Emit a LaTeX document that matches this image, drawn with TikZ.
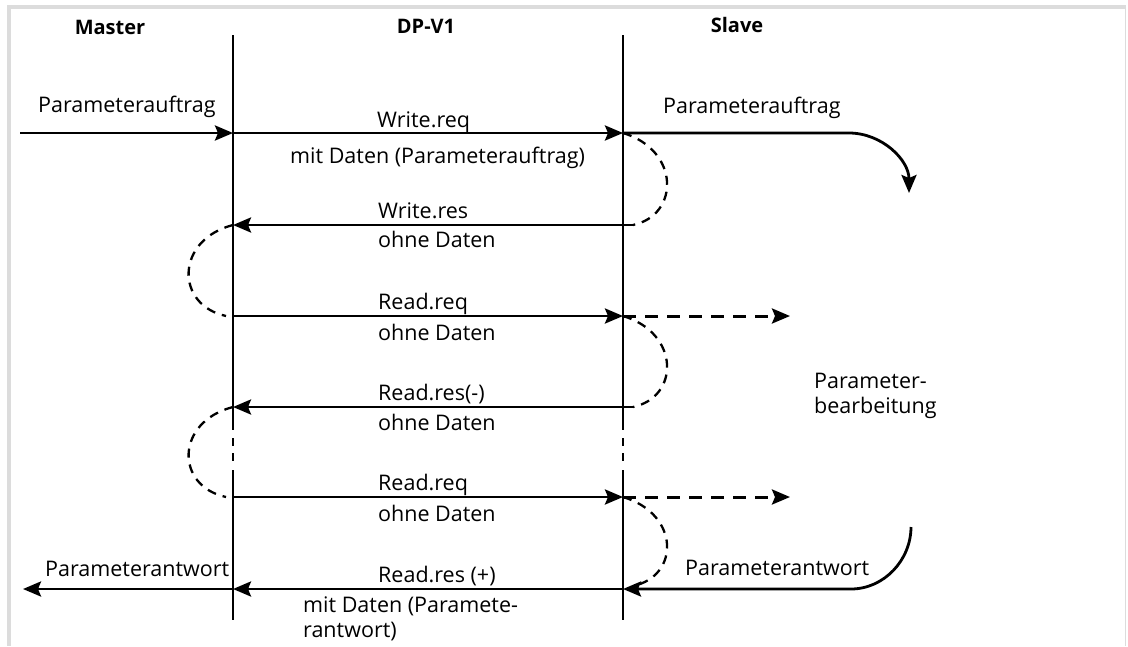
\documentclass[tikz,border=0pt]{standalone}
\usepackage{fontspec}
\setmainfont{Open Sans}
\usetikzlibrary{arrows.meta}
\definecolor{framegray}{HTML}{DCDCDC}
\tikzset{
  lifeln/.style={line width=2.8pt},
  tipstyle/.style={-{Stealth[length=18pt,width=15pt,inset=3pt]}},
  msg/.style={line width=2.8pt, tipstyle},
  dasharc/.style={line width=2.3pt, dash pattern=on 9pt off 7pt},
  dasharr/.style={line width=3pt, dash pattern=on 13pt off 9pt, tipstyle},
  lbl/.style={anchor=base west, inner sep=0pt, font=\fontsize{21.5}{25}\selectfont},
  head/.style={anchor=base, inner sep=0pt, font=\bfseries\fontsize{20}{24}\selectfont},
}
\begin{document}
\begin{tikzpicture}[x=1pt,y=-1pt]
\useasboundingbox (0,0) rectangle (1128,646);
% frame
\fill[framegray] (7,5) rectangle (1126,9);
\fill[framegray] (7,5) rectangle (11,646);
\fill[framegray] (1124.5,5) rectangle (1126,646);

% headers
\node[head] (hm) at (110,34) {Master};
\node[head] (hd) at (426,33) {DP-V1};
\node[head] (hs) at (737,32) {Slave};

% lifeline coordinates
\foreach \n/\x in {m/233,s/623}{
  \coordinate (\n top) at (\x,35);
  \coordinate (\n brk) at (\x,430);
  \coordinate (\n da) at (\x,438);
  \coordinate (\n db) at (\x,446);
  \coordinate (\n dc) at (\x,453);
  \coordinate (\n dd) at (\x,461);
  \coordinate (\n res) at (\x,470);
  \coordinate (\n bot) at (\x,620);
  \draw[lifeln] (\n top) -- (\n brk);
  \draw[lifeln] (\n da) -- (\n db);
  \draw[lifeln] (\n dc) -- (\n dd);
  \draw[lifeln] (\n res) -- (\n bot);
}

% message points
\coordinate (m1) at (233,133); \coordinate (s1) at (623,133);
\coordinate (m2) at (233,225); \coordinate (s2) at (633,225);
\coordinate (m3) at (233,316); \coordinate (s3) at (623,316);
\coordinate (m4) at (233,407); \coordinate (s4) at (633,407);
\coordinate (m5) at (233,497); \coordinate (s5) at (623,497);
\coordinate (m6) at (233,589); \coordinate (s6) at (623,589);
\coordinate (min) at (20,133);
\coordinate (mout) at (23,589);
\coordinate (m2e) at (226,316);
\coordinate (m4e) at (226,497);
\coordinate (s5e) at (633,586);
\coordinate (pa1) at (849,133);
\coordinate (pa2) at (909,193);
\coordinate (pb1) at (911,527);
\coordinate (pb2) at (851,589);
\coordinate (d3) at (790,316);
\coordinate (d5) at (790,497);

% solid messages
\draw[msg] (min) -- (m1);
\draw[msg] (m1) -- (s1);
\draw[msg] (s1) -- (pa1) .. controls (882,133) and (909,160) .. (pa2);
\draw[msg] (s2) -- (m2);
\draw[msg] (m3) -- (s3);
\draw[msg] (s4) -- (m4);
\draw[msg] (m5) -- (s5);
\draw[msg] (pb1) .. controls (911,560) and (884,589) .. (pb2) -- (s6);
\draw[msg] (s6) -- (m6);
\draw[msg] (m6) -- (mout);

% dashed arrows
\draw[dasharr] (s3) -- (d3);
\draw[dasharr] (s5) -- (d5);

% dashed arcs
\draw[dasharc] (s1) .. controls (680,150) and (680,215) .. (s2);
\draw[dasharc] (m2) .. controls (175,240) and (175,305) .. (m2e);
\draw[dasharc] (s3) .. controls (680,333) and (680,397) .. (s4);
\draw[dasharc] (m4) .. controls (175,422) and (175,486) .. (m4e);
\draw[dasharc] (s5) .. controls (680,514) and (680,576) .. (s5e);

% labels
\node[lbl] (t1) at (38,112) {Parameterauftrag};
\node[lbl] (t2) at (377,127) {Write.req};
\node[lbl] (t3) at (290,163) {mit Daten (Parameterauftrag)};
\node[lbl] (t4) at (663,113) {Parameterauftrag};
\node[lbl] (t5) at (378,218) {Write.res};
\node[lbl] (t6) at (378,247) {ohne Daten};
\node[lbl] (t7) at (378,309) {Read.req};
\node[lbl] (t8) at (378,340) {ohne Daten};
\node[lbl] (t9) at (378,400) {Read.res(-)};
\node[lbl] (t10) at (378,430) {ohne Daten};
\node[lbl] (t11) at (378,490) {Read.req};
\node[lbl] (t12) at (378,521) {ohne Daten};
\node[lbl] (t13) at (378,582) {Read.res (+)};
\node[lbl] (t14) at (303,612) {mit Daten (Paramete-};
\node[lbl] (t15) at (303,637) {rantwort)};
\node[lbl] (t16) at (814,388) {Parameter-};
\node[lbl] (t17) at (814,413) {bearbeitung};
\node[lbl] (t18) at (45,576) {Parameterantwort};
\node[lbl] (t19) at (685,575) {Parameterantwort};
\end{tikzpicture}
\end{document}
